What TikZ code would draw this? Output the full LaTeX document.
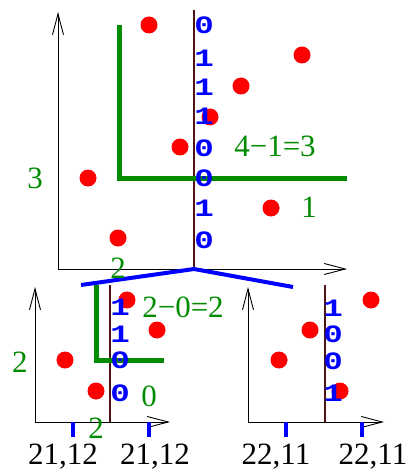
\documentclass[tikz,border=0pt]{standalone}
\usepackage{fontspec}
\usepackage{graphicx}
\setmainfont{Liberation Serif}
\newfontfamily\monof{Liberation Mono}
\usetikzlibrary{arrows.meta}
\definecolor{dgreen}{RGB}{0,140,0}
\definecolor{brownl}{RGB}{80,20,20}
\newcommand{\wbit}[1]{\scalebox{1.3}[1]{#1}}
\tikzset{
  axis/.style={line width=0.9pt,-{Straight Barb[length=21pt,width=11pt,line width=0.9pt]}},
  split/.style={brownl,line width=1.3pt},
  sweep/.style={dgreen,line width=5pt},
  dot/.style={circle,fill=red,inner sep=0pt,minimum size=17pt},
  bit/.style={text=blue,font=\monof\bfseries\fontsize{25}{25}\selectfont,inner sep=0pt},
  cnt/.style={text=dgreen,font=\fontsize{31}{31}\selectfont,inner sep=0pt},
  lbl/.style={text=black,font=\fontsize{31}{31}\selectfont,inner sep=0pt},
  bline/.style={blue,line width=4pt},
  tick/.style={blue,line width=4pt}
}
\begin{document}
\begin{tikzpicture}[x=1pt,y=-1pt]
\useasboundingbox (0,0) rectangle (411,473);
% ---------- top panel ----------
\coordinate (TO) at (58,269);
\coordinate (TY) at (58,12);
\coordinate (TX) at (347,269);
\coordinate (TBt) at (194,10);
\coordinate (TBb) at (194,269);
\draw[axis] (TO) -- (TY);
\draw[axis] (TO) -- (TX);
\draw[split] (TBt) -- (TBb);
\coordinate (G1a) at (119,25);
\coordinate (G1b) at (119,178);
\coordinate (G1c) at (347,178);
\draw[sweep] (G1a) -- (G1b) -- (G1c);
\node[dot] (d1) at (149,25) {};
\node[dot] (d2) at (302,55) {};
\node[dot] (d3) at (241,86) {};
\node[dot] (d4) at (210,117) {};
\node[dot] (d5) at (180,147) {};
\node[dot] (d6) at (88,178) {};
\node[dot] (d7) at (271,208) {};
\node[dot] (d8) at (118,238) {};
% blue split lines
\coordinate (BL) at (81,285);
\coordinate (BR) at (293,287);
\draw[bline] (BL) -- (TBb) -- (BR);
\node[bit] (b1) at (204,25) {\wbit{0}};
\node[bit] (b2) at (204,58) {\wbit{1}};
\node[bit] (b3) at (204,87) {\wbit{1}};
\node[bit] (b4) at (204,116) {\wbit{1}};
\node[bit] (b5) at (204,148) {\wbit{0}};
\node[bit] (b6) at (204,178) {\wbit{0}};
\node[bit] (b7) at (204,208) {\wbit{1}};
\node[bit] (b8) at (204,240) {\wbit{0}};
\node[cnt] (c1) at (275,146) {4−1=3};
\node[cnt] (c2) at (35,178) {3};
\node[cnt] (c3) at (309,207) {1};
\node[cnt] (c4) at (118,268) {2};
% ---------- bottom-left panel ----------
\coordinate (LO) at (35,422);
\coordinate (LY) at (35,287);
\coordinate (LX) at (170,422);
\coordinate (LBt) at (110,285);
\coordinate (LBb) at (110,422);
\draw[axis] (LO) -- (LY);
\draw[axis] (LO) -- (LX);
\draw[split] (LBt) -- (LBb);
\coordinate (G2a) at (96,285);
\coordinate (G2b) at (96,360);
\coordinate (G2c) at (164,360);
\draw[sweep] (G2a) -- (G2b) -- (G2c);
\node[dot] (e1) at (127,300) {};
\node[dot] (e2) at (157,330) {};
\node[dot] (e3) at (65,360) {};
\node[dot] (e4) at (96,391) {};
\node[bit] (f1) at (120,307) {\wbit{1}};
\node[bit] (f2) at (120,334) {\wbit{1}};
\node[bit] (f3) at (120,360) {\wbit{0}};
\node[bit] (f4) at (120,393) {\wbit{0}};
\node[cnt] (g1) at (183,307) {2−0=2};
\node[cnt] (g2) at (20,362) {2};
\node[cnt] (g3) at (149,396) {0};
\node[cnt] (g4) at (96,428) {2};
\coordinate (t1a) at (73,422); \coordinate (t1b) at (73,437);
\coordinate (t2a) at (149,422); \coordinate (t2b) at (149,437);
\draw[tick] (t1a) -- (t1b);
\draw[tick] (t2a) -- (t2b);
\node[lbl] (l1) at (63,457) {21,12};
\node[lbl] (l2) at (155,457) {21,12};
% ---------- bottom-right panel ----------
\coordinate (RO) at (248,422);
\coordinate (RY) at (248,287);
\coordinate (RX) at (384,422);
\coordinate (RBt) at (325,285);
\coordinate (RBb) at (325,422);
\draw[axis] (RO) -- (RY);
\draw[axis] (RO) -- (RX);
\draw[split] (RBt) -- (RBb);
\node[dot] (h1) at (371,300) {};
\node[dot] (h2) at (310,330) {};
\node[dot] (h3) at (279,360) {};
\node[dot] (h4) at (340,391) {};
\node[bit] (k1) at (333,308) {\wbit{1}};
\node[bit] (k2) at (333,334) {\wbit{0}};
\node[bit] (k3) at (333,361) {\wbit{0}};
\node[bit] (k4) at (333,393) {\wbit{1}};
\coordinate (t3a) at (286,422); \coordinate (t3b) at (286,437);
\coordinate (t4a) at (362,422); \coordinate (t4b) at (362,437);
\draw[tick] (t3a) -- (t3b);
\draw[tick] (t4a) -- (t4b);
\node[lbl] (l3) at (276,457) {22,11};
\node[lbl] (l4) at (373,457) {22,11};
\end{tikzpicture}
\end{document}
